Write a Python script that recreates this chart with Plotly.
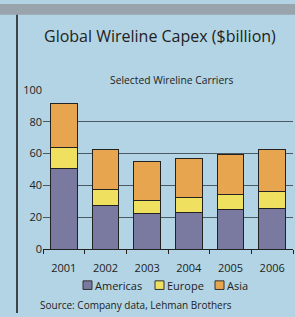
import plotly.graph_objects as go

years = ["2001", "2002", "2003", "2004", "2005", "2006"]
americas = [50.4, 27.6, 22.4, 23.0, 24.6, 25.8]
europe = [13.2, 9.6, 8.4, 9.6, 9.8, 10.2]
asia = [28.0, 25.2, 24.0, 24.0, 25.2, 26.4]
series_names = ["Americas", "Europe", "Asia"]
y_ticks = [0, 20, 40, 60, 80, 100]

W, H = 295, 317
BG = "#b3d4e4"
FONT = "Open Sans"
colors = ["#7a79a0", "#f0e060", "#e8a54f"]

fig = go.Figure()
for name, vals, col in zip(series_names, [americas, europe, asia], colors):
    fig.add_trace(go.Bar(x=years, y=vals, name=name, showlegend=False,
                         marker=dict(color=col, line=dict(color="#222222", width=1))))

# legend drawn as boxed squares + labels (compact, like the original)
legend_x = [83, 155, 215]
legend_y = 291
shapes = [
    dict(type="rect", xref="paper", yref="paper", x0=0, x1=1, y0=1 - 8 / H, y1=1.01,
         fillcolor="#9aa4ac", line=dict(width=0), layer="above"),
    dict(type="line", xref="paper", yref="paper", x0=17 / W, x1=17 / W, y0=-0.01, y1=1 - 8 / H,
         line=dict(color="#333333", width=1.8)),
]
annotations = [
    dict(text="Global Wireline Capex ($billion)", xref="paper", yref="paper",
         x=160 / W, y=1 - 30 / H, xanchor="center", yanchor="middle", showarrow=False,
         font=dict(size=16, family=FONT, color="#222222")),
    dict(text="Selected Wireline Carriers", xref="paper", yref="paper",
         x=171 / W, y=1 - 76 / H, xanchor="center", yanchor="middle", showarrow=False,
         font=dict(size=10.3, family=FONT, color="#222222")),
    dict(text="Source: Company data, Lehman Brothers", xref="paper", yref="paper",
         x=38 / W, y=1 - 312 / H, xanchor="left", yanchor="middle", showarrow=False,
         font=dict(size=10, family=FONT, color="#222222")),
]
for name, col, lx in zip(series_names, colors, legend_x):
    shapes.append(dict(type="rect", xref="paper", yref="paper",
                       x0=lx / W, x1=(lx + 9) / W,
                       y0=1 - (legend_y + 4.5) / H, y1=1 - (legend_y - 4.5) / H,
                       fillcolor=col, line=dict(color="#333333", width=1)))
    annotations.append(dict(text=name, xref="paper", yref="paper",
                            x=(lx + 10) / W, y=1 - legend_y / H, xanchor="left", yanchor="middle",
                            showarrow=False, font=dict(size=11, family=FONT, color="#222222")))

# y range slightly above 100 so the top gridline is drawn
y_top = 100.6
px_per_unit = (253.3 - 86.7) / 100
top_px = 253.3 - y_top * px_per_unit

fig.update_layout(
    width=W, height=H, autosize=False,
    margin=dict(l=0, r=0, t=0, b=0),
    paper_bgcolor=BG, plot_bgcolor=BG,
    barmode="stack", bargap=0.36,
    font=dict(family=FONT, color="#222222", size=11),
    showlegend=False,
    xaxis=dict(domain=[43 / W, 293 / W], showgrid=False, showline=True, linecolor="#222222",
               linewidth=1.2, ticks="outside", tickson="boundaries", ticklen=4,
               tickcolor="#222222", ticklabelstandoff=9,
               tickfont=dict(size=11, family=FONT, color="#222222")),
    yaxis=dict(domain=[(H - 253.3) / H, (H - top_px) / H], range=[0, y_top], tickvals=y_ticks,
               showgrid=True, gridcolor="#4b5a62", gridwidth=1.3, zeroline=False,
               showline=False, ticks="",
               tickfont=dict(size=11, family=FONT, color="#222222")),
    shapes=shapes,
    annotations=annotations,
)

fig.write_html("out.html", config={"displayModeBar": False},
               post_script="document.body.style.margin='0';document.body.style.overflow='hidden';")
